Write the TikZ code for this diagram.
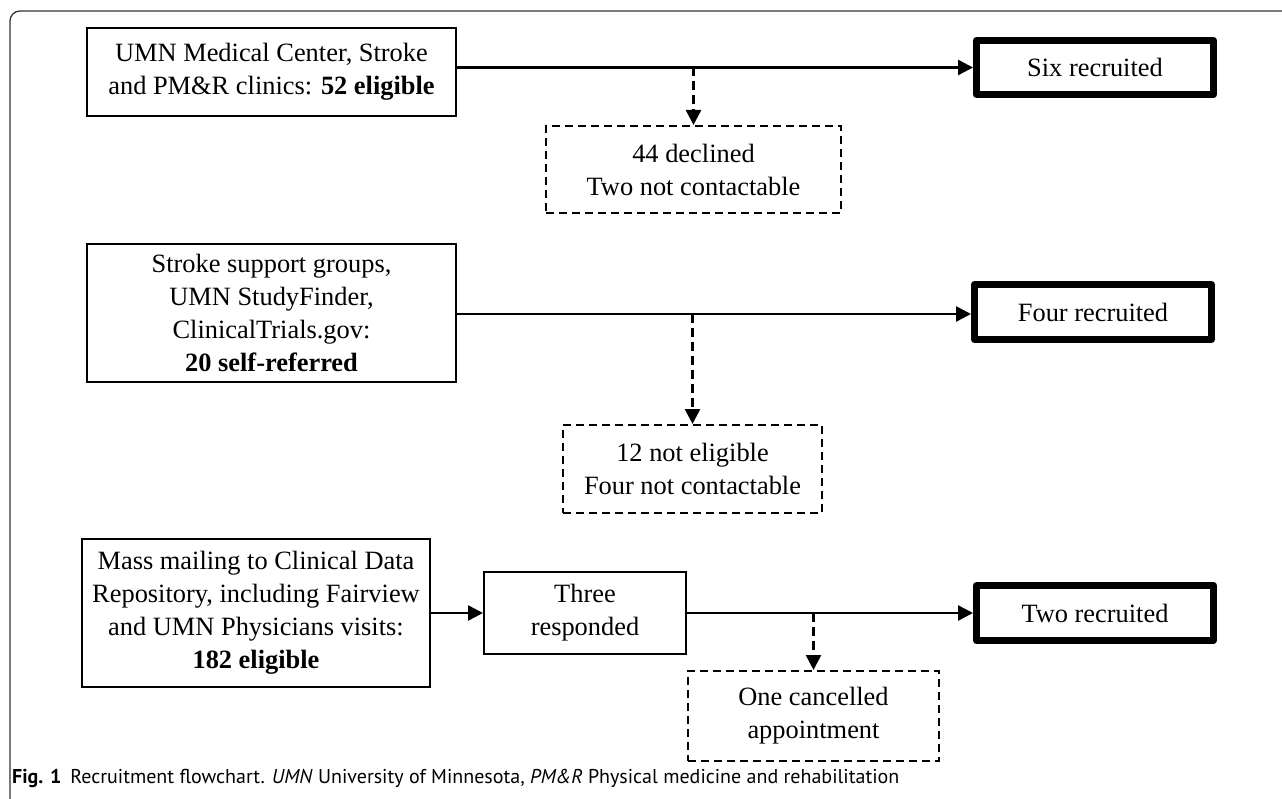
\documentclass[tikz,border=0pt]{standalone}
\usepackage{fontspec}
\setmainfont{Liberation Serif}
\newfontfamily\capfont{PT Sans}
\usetikzlibrary{arrows.meta,calc}
\begin{document}
\begin{tikzpicture}[x=1pt,y=-1pt,
  boxtext/.style={font=\fontsize{26.4}{33}\selectfont, align=center, inner sep=0pt},
  srcbox/.style={boxtext, draw, line width=2pt},
  resbox/.style={boxtext, draw, line width=7pt, line join=round},
  lossbox/.style={boxtext, draw, line width=2pt, dash pattern=on 8pt off 5pt},
  arr/.style={line width=2.5pt, -{Triangle[length=15pt,width=15pt]}},
  darr/.style={line width=2.5pt, dash pattern=on 9pt off 5pt, -{Triangle[length=15pt,width=15pt]}}
]
\useasboundingbox (0,0) rectangle (1282,799);
\draw[line width=1.3pt, black!80, rounded corners=10pt] (10,799) -- (10,11) -- (1290,11);

% source boxes
\node[srcbox, minimum width=369pt, minimum height=88pt] (b1) at (271.5,72) {UMN Medical Center, Stroke\\and PM\&R clinics: \textbf{52 eligible}};
\node[srcbox, minimum width=369pt, minimum height=138pt] (b2) at (271.5,313) {Stroke support groups,\\UMN StudyFinder,\\ClinicalTrials.gov:\\\textbf{20 self-referred}};
\node[srcbox, minimum width=348pt, minimum height=148pt] (b3) at (256,613) {Mass mailing to Clinical Data\\Repository, including Fairview\\and UMN Physicians visits:\\\textbf{182 eligible}};
\node[srcbox, minimum width=202pt, minimum height=82pt] (three) at (585,613) {Three\\responded};

% result boxes
\node[resbox, minimum width=237pt, minimum height=54pt] (six) at (1095,67.5) {Six recruited};
\node[resbox, minimum width=237pt, minimum height=55pt] (four) at (1093,312) {Four recruited};
\node[resbox, minimum width=237pt, minimum height=55pt] (two) at (1095,613) {Two recruited};

% loss boxes
\node[lossbox, minimum width=295pt, minimum height=87pt] (d1) at (693.5,169.5) {44 declined\\Two not contactable};
\node[lossbox, minimum width=259pt, minimum height=88pt] (d2) at (692.5,469) {12 not eligible\\Four not contactable};
\node[lossbox, minimum width=251pt, minimum height=90pt] (d3) at (813.5,716) {One cancelled\\appointment};

% connectors
\draw[arr] (b1.east |- six.west) -- (six.west);
\draw[darr] (d1.north |- six.west) -- (d1.north);
\draw[arr] ([yshift=-2pt]b2.east |- four.west) -- ([yshift=-2pt]four.west);
\draw[darr] ([yshift=-2pt]d2.north |- four.west) -- (d2.north);
\draw[arr] (b3.east) -- (three.west);
\draw[arr] (three.east) -- (two.west);
\draw[darr] (d3.north |- two.west) -- (d3.north);

% caption
\node[anchor=base west, inner sep=0pt, font=\capfont\fontsize{20}{22}\selectfont] (cap) at (12,783)
  {\textbf{Fig. 1}\hspace{9pt}Recruitment flowchart. \textit{UMN} University of Minnesota, \textit{PM\&R} Physical medicine and rehabilitation};
\end{tikzpicture}
\end{document}
